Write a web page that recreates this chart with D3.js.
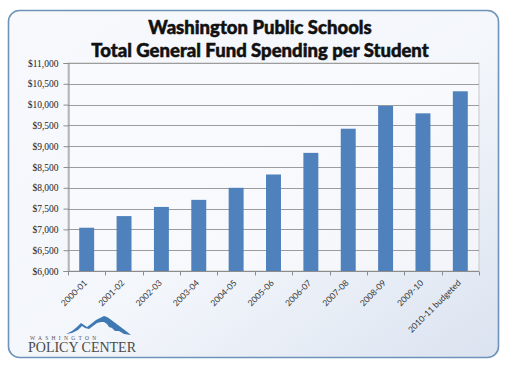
<!DOCTYPE html>
<html>
<head>
<meta charset="utf-8">
<script src="https://cdn.jsdelivr.net/npm/d3@7"></script>
<style>
  body { margin: 0; background: #fff; }
  svg { display: block; }
</style>
</head>
<body>
<svg width="507" height="366"></svg>
<script>
// School years and spending per student
const years = ["2000-01", "2001-02", "2002-03", "2003-04", "2004-05", "2005-06",
               "2006-07", "2007-08", "2008-09", "2009-10", "2010-11 budgeted"];
const spending = [7040, 7320, 7540, 7710, 8000, 8320, 8840, 9420, 9970, 9790, 10320];
const yTicks = [6000, 6500, 7000, 7500, 8000, 8500, 9000, 9500, 10000, 10500, 11000];
const titleLines = ["Washington Public Schools", "Total General Fund Spending per Student"];

var svg = d3.select("svg");
var defs = svg.append("defs");

// soft blue panel background
var grad = defs.append("linearGradient").attr("id", "bg")
    .attr("x1", "0%").attr("y1", "0%").attr("x2", "100%").attr("y2", "100%");
grad.append("stop").attr("offset", "0%").attr("stop-color", "#f7f9fd");
grad.append("stop").attr("offset", "55%").attr("stop-color", "#f3f6fb");
grad.append("stop").attr("offset", "100%").attr("stop-color", "#dbe3f0");

svg.append("rect")
    .attr("x", 8.5).attr("y", 10.5).attr("width", 490).attr("height", 347)
    .attr("rx", 11).attr("ry", 11)
    .attr("fill", "url(#bg)")
    .attr("stroke", "#6e92b9").attr("stroke-width", 1.6);

// title
svg.append("g").selectAll("text")
    .data(titleLines)
    .enter().append("text")
    .attr("x", 260)
    .attr("y", (d, i) => 34 + i * 23)
    .attr("text-anchor", "middle")
    .style("font-family", "Lato, 'DejaVu Sans', sans-serif")
    .style("font-weight", "900")
    .style("font-size", "18.5px")
    .style("fill", "#111")
    .style("stroke", "#111")
    .style("stroke-width", "0.5px")
    .text(d => d);

// **** scales ****
var x = d3.scaleBand().domain(years).range([68, 479]).paddingInner(0.6).paddingOuter(0.3);
var y = d3.scaleLinear().domain([6000, 11000]).range([271, 63]);

var chartG = svg.append("g");

// plot area
chartG.append("rect")
    .attr("x", 68).attr("y", 63).attr("width", 411).attr("height", 208)
    .attr("fill", "#fbfcfe").attr("fill-opacity", 0.6)
    .attr("stroke", "#c8c8c8").attr("stroke-width", 1);

// gridlines
chartG.append("g").selectAll("line")
    .data(yTicks)
    .enter().append("line")
    .attr("x1", 68).attr("x2", 479)
    .attr("y1", d => Math.round(y(d)) + 0.5).attr("y2", d => Math.round(y(d)) + 0.5)
    .attr("stroke", "#9c9c9c").attr("stroke-width", 1);

// bars
chartG.selectAll(".bar")
    .data(spending)
    .enter().append("rect")
    .attr("class", "bar")
    .attr("x", (d, i) => x(years[i]))
    .attr("width", x.bandwidth())
    .attr("y", d => y(d))
    .attr("height", d => y(6000) - y(d))
    .attr("fill", "#4f81bd");

// y axis
var yAxis = chartG.append("g")
    .attr("transform", "translate(68.5,0)")
    .call(d3.axisLeft(y).tickValues(yTicks).tickSize(5).tickPadding(5)
        .tickFormat(d => "$" + d3.format(",")(d)));
yAxis.select(".domain").attr("stroke", "#8c8c8c");
yAxis.selectAll(".tick line").attr("stroke", "#8c8c8c");
yAxis.selectAll("text")
    .style("font-family", "'Liberation Serif', 'DejaVu Serif', serif")
    .style("font-size", "9.5px")
    .style("fill", "#222");

// x axis: ticks between categories
var step = x.step();
var boundaries = d3.range(years.length + 1).map(i => 68 + (i === 0 ? 0 : (x(years[i - 1]) + x.bandwidth() / 2 + step / 2 - 68)));
var xAxis = chartG.append("g").attr("transform", "translate(0,271.5)");
xAxis.append("line").attr("x1", 68).attr("x2", 479).attr("stroke", "#8c8c8c");
xAxis.selectAll(".tk")
    .data(boundaries)
    .enter().append("line")
    .attr("class", "tk")
    .attr("x1", d => Math.round(d) + 0.5).attr("x2", d => Math.round(d) + 0.5)
    .attr("y1", 0).attr("y2", 4)
    .attr("stroke", "#8c8c8c");
xAxis.selectAll(".lbl")
    .data(years)
    .enter().append("text")
    .attr("class", "lbl")
    .attr("transform", d => `translate(${x(d) + x.bandwidth() / 2 + 1},${12}) rotate(-45)`)
    .attr("text-anchor", "end")
    .style("font-family", "Lato, 'Open Sans', sans-serif")
    .style("font-size", "8.5px")
    .style("fill", "#333")
    .text(d => d);

// **** logo ****
var logo = svg.append("g");
logo.append("path")
    .attr("d", "M66 334 L72 331 L77 327 L81 323 L84 325 L87 327 L91 324 L96 320 L100 318 L104 316 L107 317 L110 319 L114 322 L118 325 L122 328 L126 331 L131 335 " +
               "L124 334 L119 331 L115 331 L112 328 L109 327 L107 324 L104 322 L101 322 L97 323 L93 326 L89 329 L85 328 L82 326 L78 330 L72 333 Z")
    .attr("fill", "#3f79b4");
logo.append("text")
    .attr("x", 30).attr("y", 339.5)
    .style("font-family", "'Liberation Serif', serif")
    .style("font-size", "5.5px")
    .style("letter-spacing", "3.3px")
    .style("fill", "#555")
    .text("WASHINGTON");
logo.append("text")
    .attr("x", 28).attr("y", 352)
    .style("font-family", "'Liberation Serif', serif")
    .style("font-size", "14px")
    .style("fill", "#4a4a4a")
    .text("POLICY CENTER");
</script>
</body>
</html>
